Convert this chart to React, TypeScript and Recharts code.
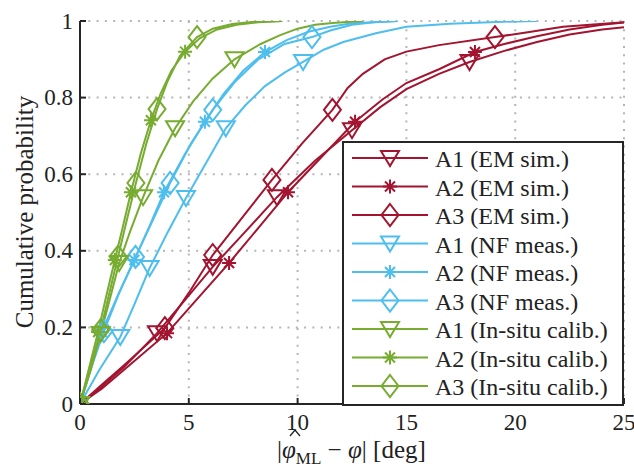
import React from "react";
import { LineChart, Line, XAxis, YAxis, CartesianGrid } from "recharts";

if (typeof document !== "undefined") {
  document.body.style.margin = "0";
}

const RED = "#A2142F";
const BLUE = "#4DBEEE";
const GREEN = "#77AC30";
const AXIS = "#262626";
const FONT = "Liberation Serif, serif";

const xTicks = [0, 5, 10, 15, 20, 25];
const yTicks = [0, 0.2, 0.4, 0.6, 0.8, 1];

// [x, y, marker?]
type P = [number, number, number?];

const emA1: P[] = [
  [0, 0, 1], [1, 0.045], [2, 0.095], [3.54, 0.185, 1], [4.8, 0.27], [6.1, 0.358, 1],
  [7.6, 0.45], [9.05, 0.54, 1], [10.8, 0.635], [12.5, 0.715, 1], [13.8, 0.775],
  [15, 0.822], [16.5, 0.862], [17.9, 0.893, 1], [19.5, 0.922], [21, 0.945],
  [22.5, 0.965], [24, 0.978], [25, 0.984],
];
const emA2: P[] = [
  [0, 0, 1], [1, 0.04], [2, 0.088], [4.0, 0.185, 1], [5.4, 0.275], [6.85, 0.368, 1],
  [8.2, 0.46], [9.56, 0.553, 1], [11.1, 0.645], [12.64, 0.737, 1], [13.9, 0.795],
  [15, 0.838], [16.5, 0.874], [18.15, 0.919, 1], [19.5, 0.94], [21, 0.96],
  [22.5, 0.978], [24, 0.99], [25, 0.996],
];
const emA3: P[] = [
  [0, 0, 1], [1, 0.05], [2, 0.1], [3.9, 0.198, 1], [5, 0.29], [6.1, 0.389, 1],
  [7.5, 0.49], [8.82, 0.585, 1], [10.2, 0.68], [11.6, 0.768, 1], [12.3, 0.825],
  [13, 0.862], [14, 0.9], [15, 0.92], [16.5, 0.937], [19.07, 0.958, 1],
  [20.5, 0.97], [22.2, 0.985], [25, 0.997],
];

const nfA1: P[] = [
  [0, 0, 1], [0.9, 0.09], [1.85, 0.175, 1], [2.5, 0.26], [3.2, 0.355, 1], [4.0, 0.445],
  [4.87, 0.538, 1], [5.8, 0.63], [6.7, 0.72, 1], [7.6, 0.78], [8.5, 0.83],
  [9.4, 0.865], [10.25, 0.893, 1], [11.2, 0.925], [12.1, 0.945], [13.6, 0.968],
  [15, 0.985], [17, 0.993], [20, 0.999], [21, 1],
];
const nfA2: P[] = [
  [0, 0, 1], [0.5, 0.095], [1.0, 0.188, 1], [1.75, 0.285], [2.5, 0.376, 1],
  [3.2, 0.465], [3.86, 0.553, 1], [4.8, 0.65], [5.74, 0.737, 1], [6.6, 0.81],
  [7.5, 0.87], [8.5, 0.919, 1], [9.5, 0.95], [10.5, 0.972], [11.5, 0.985],
  [12.5, 0.994], [14.6, 1],
];
const nfA3: P[] = [
  [0, 0, 1], [0.55, 0.1], [1.1, 0.19, 1], [1.8, 0.29], [2.55, 0.384, 1], [3.35, 0.48],
  [4.14, 0.577, 1], [5.1, 0.68], [6.1, 0.768, 1], [7.1, 0.84], [8.2, 0.9],
  [9.4, 0.94], [10.66, 0.958, 1], [11.5, 0.975], [12.5, 0.99], [13.5, 0.997],
  [14.6, 1],
];

const isA1: P[] = [
  [0, 0, 1], [0.5, 0.09], [0.95, 0.183, 1], [1.4, 0.28], [1.8, 0.368, 1], [2.3, 0.45],
  [2.9, 0.54, 1], [3.6, 0.635], [4.37, 0.72, 1], [5.2, 0.79], [6.1, 0.85],
  [7.1, 0.9, 1], [8.3, 0.94], [9.2, 0.963], [10, 0.98], [10.8, 0.99],
  [11.6, 0.995], [13, 1],
];
const isA2: P[] = [
  [0, 0, 1], [0.4, 0.09], [0.83, 0.188, 1], [1.2, 0.28], [1.6, 0.376, 1], [2.0, 0.47],
  [2.34, 0.553, 1], [2.8, 0.655], [3.26, 0.741, 1], [3.7, 0.81], [4.2, 0.87],
  [4.83, 0.92, 1], [5.5, 0.955], [6.3, 0.978], [7.2, 0.99], [8.2, 0.997], [9.3, 1],
];
const isA3: P[] = [
  [0, 0, 1], [0.45, 0.09], [0.95, 0.193, 1], [1.35, 0.29], [1.75, 0.385, 1],
  [2.15, 0.48], [2.57, 0.577, 1], [3.05, 0.68], [3.54, 0.77, 1], [4.0, 0.84],
  [4.6, 0.91], [5.38, 0.958, 1], [6.1, 0.98], [7.0, 0.992], [8.0, 0.998], [9.3, 1],
];

type Kind = "tri" | "star" | "dia";

const series: { name: string; color: string; kind: Kind; pts: P[] }[] = [
  { name: "A1 (EM sim.)", color: RED, kind: "tri", pts: emA1 },
  { name: "A2 (EM sim.)", color: RED, kind: "star", pts: emA2 },
  { name: "A3 (EM sim.)", color: RED, kind: "dia", pts: emA3 },
  { name: "A1 (NF meas.)", color: BLUE, kind: "tri", pts: nfA1 },
  { name: "A2 (NF meas.)", color: BLUE, kind: "star", pts: nfA2 },
  { name: "A3 (NF meas.)", color: BLUE, kind: "dia", pts: nfA3 },
  { name: "A1 (In-situ calib.)", color: GREEN, kind: "tri", pts: isA1 },
  { name: "A2 (In-situ calib.)", color: GREEN, kind: "star", pts: isA2 },
  { name: "A3 (In-situ calib.)", color: GREEN, kind: "dia", pts: isA3 },
];

function Mark({ kind, cx, cy, color }: { kind: Kind; cx: number; cy: number; color: string }) {
  const common = { stroke: color, strokeWidth: 2, fill: "none" };
  if (kind === "tri") {
    return <polygon points={`${cx - 9},${cy - 7} ${cx + 9},${cy - 7} ${cx},${cy + 8}`} {...common} />;
  }
  if (kind === "dia") {
    return <polygon points={`${cx},${cy - 11} ${cx + 8.5},${cy} ${cx},${cy + 11} ${cx - 8.5},${cy}`} {...common} />;
  }
  return (
    <path
      d={`M${cx - 7},${cy}H${cx + 7}M${cx},${cy - 7}V${cy + 7}M${cx - 5},${cy - 5}L${cx + 5},${cy + 5}M${cx - 5},${cy + 5}L${cx + 5},${cy - 5}`}
      {...common}
    />
  );
}

const BottomTick = (props: any) => {
  const { x, y, payload } = props;
  return (
    <g>
      <line x1={x} x2={x} y1={y} y2={y - 6} stroke={AXIS} strokeWidth={2} />
      <text x={x} y={y + 18} textAnchor="middle" dominantBaseline="central" fontSize={23} fontFamily={FONT} fill="#222">
        {payload.value}
      </text>
    </g>
  );
};

const LeftTick = (props: any) => {
  const { x, y, payload } = props;
  return (
    <g>
      <line x1={x} x2={x + 6} y1={y} y2={y} stroke={AXIS} strokeWidth={2} />
      <text x={x - 7} y={y} textAnchor="end" dominantBaseline="central" fontSize={23} fontFamily={FONT} fill="#222">
        {payload.value}
      </text>
    </g>
  );
};

const TopTick = (props: any) => {
  const { x, y } = props;
  return <line x1={x} x2={x} y1={y} y2={y + 6} stroke={AXIS} strokeWidth={2} />;
};

const RightTick = (props: any) => {
  const { x, y } = props;
  return <line x1={x} x2={x - 6} y1={y} y2={y} stroke={AXIS} strokeWidth={2} />;
};

function Legend() {
  const rowH = 28.5;
  return (
    <svg
      width={282}
      height={265}
      style={{ position: "absolute", left: 342, top: 141 }}
    >
      <rect x={1} y={1} width={280} height={263} fill="#fff" stroke={AXIS} strokeWidth={2} />
      {series.map((s, i) => {
        const cy = 17 + i * rowH;
        return (
          <g key={s.name}>
            <line x1={10} x2={86} y1={cy} y2={cy} stroke={s.color} strokeWidth={2} />
            <Mark kind={s.kind} cx={48} cy={cy} color={s.color} />
            <text x={93} y={cy + 1} dominantBaseline="central" fontSize={24} fontFamily={FONT} fill="#222">
              {s.name}
            </text>
          </g>
        );
      })}
    </svg>
  );
}

export default function App() {
  return (
    <div style={{ position: "relative", width: 634, height: 468, background: "#fff" }}>
      <LineChart width={634} height={468} margin={{ top: 21, right: 10, left: 0, bottom: 0 }}>
        <CartesianGrid stroke="#b5b5b5" strokeWidth={2} strokeDasharray="2 6.3" />
        <XAxis
          xAxisId={0}
          type="number"
          dataKey="x"
          domain={[0, 25]}
          ticks={xTicks}
          height={64}
          tickSize={0}
          tickMargin={0}
          tick={<BottomTick />}
          tickLine={false}
          axisLine={{ stroke: AXIS, strokeWidth: 2 }}
          allowDataOverflow
        />
        <XAxis
          xAxisId="top"
          orientation="top"
          type="number"
          dataKey="x"
          domain={[0, 25]}
          ticks={xTicks}
          height={0}
          tickSize={0}
          tickMargin={0}
          tick={<TopTick />}
          tickLine={false}
          axisLine={{ stroke: AXIS, strokeWidth: 2 }}
          allowDataOverflow
        />
        <YAxis
          yAxisId={0}
          type="number"
          domain={[0, 1]}
          ticks={yTicks}
          width={80}
          tickSize={0}
          tickMargin={0}
          tick={<LeftTick />}
          tickLine={false}
          axisLine={{ stroke: AXIS, strokeWidth: 2 }}
          allowDataOverflow
        />
        <YAxis
          yAxisId="right"
          orientation="right"
          type="number"
          domain={[0, 1]}
          ticks={yTicks}
          width={0}
          tickSize={0}
          tickMargin={0}
          tick={<RightTick />}
          tickLine={false}
          axisLine={{ stroke: AXIS, strokeWidth: 2 }}
          allowDataOverflow
        />
        {series.map((s) => (
          <Line
            key={s.name}
            data={s.pts.map(([x, y, m]) => ({ x, y, m: m ? 1 : 0 }))}
            dataKey="y"
            type="linear"
            stroke={s.color}
            strokeWidth={2}
            isAnimationActive={false}
            activeDot={false}
            legendType="none"
            dot={(p: any) =>
              p.payload && p.payload.m ? (
                <Mark key={p.index} kind={s.kind} cx={p.cx} cy={p.cy} color={s.color} />
              ) : (
                <g key={p.index} />
              )
            }
          />
        ))}
      </LineChart>
      <svg width={634} height={468} style={{ position: "absolute", left: 0, top: 0, pointerEvents: "none" }}>
        <text
          x={0}
          y={0}
          transform="translate(24 212) rotate(-90)"
          textAnchor="middle"
          dominantBaseline="central"
          fontSize={25}
          fontFamily={FONT}
          fill="#222"
        >
          Cumulative probability
        </text>
        <text x={277} y={458} fontSize={25} fontFamily={FONT} fill="#222">
          |<tspan fontStyle="italic">{"\u03C6"}</tspan>
          <tspan fontSize={17} dy={6}>ML</tspan>
          <tspan dy={-6}>{" \u2212 "}</tspan>
          <tspan fontStyle="italic">{"\u03C6"}</tspan>| [deg]
        </text>
        {/* hat over the first phi */}
        <path d="M290,436 L295,430 L300,436" fill="none" stroke="#222" strokeWidth={1.3} />
      </svg>
      <Legend />
    </div>
  );
}
